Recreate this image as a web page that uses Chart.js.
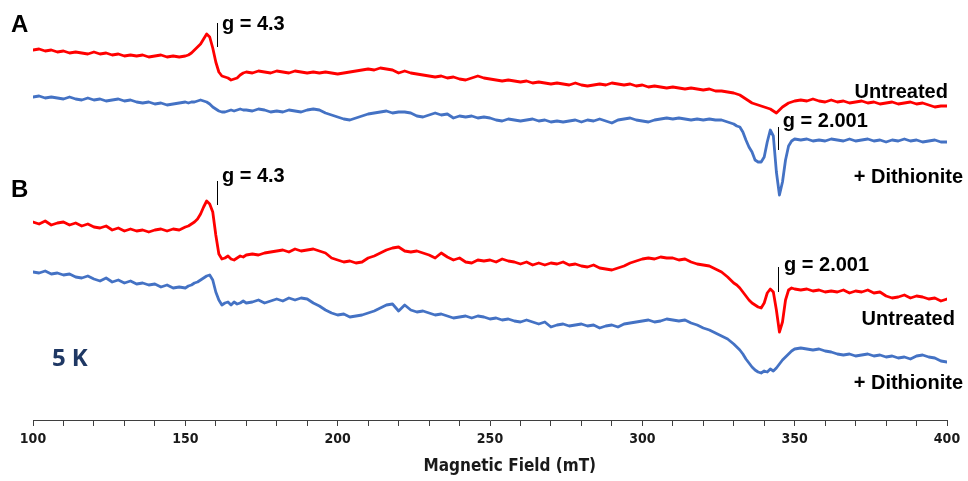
<!DOCTYPE html>
<html>
<head>
<meta charset="utf-8">
<script src="https://cdn.jsdelivr.net/npm/chart.js@4"></script>
<style>
  html, body { margin: 0; padding: 0; background: #ffffff; }
  #wrap { width: 968px; height: 481px; position: relative; }
</style>
</head>
<body>
<div id="wrap"><canvas id="epr"></canvas></div>
<script>
// Magnetic field sampling (mT); finer steps across the g = 4.3 and g = 2.001 features
const fieldMT = [
  100,102,104,106,108,110,112,114,116,118,120,122,124,126,128,130,132,134,136,138,140,142,144,146,148,150,
  151,152,153,154,155,156,157,158,159,160,161,162,163,164,165,166,167,168,169,170,
  172,174,176,178,180,182,184,186,188,190,192,194,196,198,200,202,204,206,208,210,
  212,214,216,218,220,222,224,226,228,230,232,234,236,238,240,242,244,246,248,250,
  252,254,256,258,260,262,264,266,268,270,272,274,276,278,280,282,284,286,288,290,
  292,294,296,298,300,302,304,306,308,310,312,314,316,318,320,322,324,326,328,330,
  331,332,333,334,335,336,337,338,339,340,341,342,343,344,345,346,347,348,349,350,
  352,354,356,358,360,362,364,366,368,370,372,374,376,378,380,382,384,386,388,390,392,394,396,398,400
];

// EPR derivative signals (a.u.) at 5 K
const untreatedA = [
  0,1,-1,0,-2,-1,-3,-2,-3,-4,-2,-4,-3,-5,-4,-6,-5,-6,-5,-7,-6,-5,-7,-6,-7,-6,
  -5,-3,0,3,6,11,16,13,2,-12,-22,-26,-27,-28,-30,-29,-28,-25,-23,-22,
  -23,-21,-22,-23,-21,-22,-23,-21,-22,-23,-22,-23,-22,-23,-24,-23,-22,-21,-20,-19,
  -20,-18,-19,-20,-23,-21,-23,-24,-25,-26,-27,-26,-28,-27,-29,-30,-28,-26,-28,-29,
  -30,-31,-30,-31,-32,-31,-33,-32,-33,-34,-33,-34,-35,-33,-35,-36,-35,-34,-35,-33,
  -34,-35,-34,-36,-35,-37,-36,-37,-38,-37,-38,-39,-38,-39,-40,-39,-41,-41,-42,-43,
  -44,-45,-47,-49,-51,-53,-54,-55,-56,-57,-58,-59,-61,-63,-60,-57,-55,-53,-52,-51,
  -50,-51,-49,-51,-52,-50,-52,-51,-53,-52,-51,-53,-52,-54,-53,-52,-54,-53,-52,-54,-53,-55,-57,-56,-56
];
const dithioniteA = [
  0,1,-1,0,-1,-2,0,-2,-3,-1,-3,-2,-4,-3,-2,-4,-3,-5,-6,-5,-7,-6,-8,-7,-6,-5,
  -6,-5,-5,-4,-3,-4,-5,-7,-10,-12,-14,-15,-15,-14,-13,-14,-13,-12,-13,-13,
  -14,-12,-13,-15,-14,-15,-13,-14,-15,-13,-12,-13,-16,-18,-20,-22,-23,-21,-19,-17,
  -16,-15,-14,-16,-15,-15,-16,-19,-20,-18,-16,-18,-17,-21,-19,-20,-19,-21,-20,-21,
  -23,-24,-22,-23,-24,-23,-22,-24,-23,-25,-24,-25,-24,-23,-25,-23,-24,-22,-24,-26,
  -23,-22,-21,-23,-24,-25,-23,-22,-21,-22,-21,-22,-23,-22,-23,-22,-23,-23,-25,-27,
  -29,-30,-35,-43,-50,-55,-63,-65,-65,-60,-45,-33,-39,-75,-98,-85,-63,-49,-44,-42,
  -43,-42,-44,-43,-44,-42,-43,-44,-42,-44,-43,-42,-44,-43,-45,-43,-44,-42,-44,-43,-45,-44,-43,-45,-45
];
const untreatedB = [
  0,-2,1,-3,-1,0,-3,-1,-4,-2,-5,-6,-4,-8,-6,-9,-7,-9,-8,-10,-8,-7,-9,-7,-8,-5,
  -4,-2,0,3,8,15,21,18,10,-13,-32,-37,-36,-34,-37,-38,-36,-34,-35,-33,
  -32,-33,-31,-30,-29,-28,-30,-27,-29,-28,-27,-29,-31,-36,-38,-40,-39,-41,-40,-36,
  -34,-31,-28,-26,-25,-29,-30,-29,-31,-33,-36,-31,-35,-38,-36,-40,-41,-38,-39,-38,
  -40,-37,-39,-40,-42,-40,-43,-41,-43,-41,-42,-40,-43,-42,-44,-45,-43,-46,-47,-48,
  -46,-44,-41,-39,-37,-36,-37,-35,-36,-36,-38,-37,-40,-42,-43,-44,-47,-50,-55,-61,
  -63,-66,-70,-74,-78,-81,-83,-85,-86,-81,-71,-67,-70,-88,-110,-100,-78,-68,-66,-67,
  -68,-67,-69,-68,-70,-69,-70,-68,-71,-69,-70,-68,-71,-70,-74,-76,-75,-73,-76,-74,-75,-77,-76,-79,-77
];
const dithioniteB = [
  0,-1,1,-2,-1,-3,-2,-5,-6,-4,-7,-9,-6,-10,-8,-11,-9,-12,-11,-13,-12,-15,-13,-16,-15,-16,
  -14,-13,-11,-10,-8,-6,-4,-3,-8,-20,-28,-33,-31,-30,-33,-30,-32,-31,-29,-31,
  -30,-28,-31,-29,-27,-29,-26,-28,-26,-27,-31,-34,-38,-41,-43,-42,-45,-44,-43,-41,
  -39,-36,-33,-32,-39,-33,-38,-40,-39,-41,-43,-42,-44,-46,-45,-44,-46,-44,-45,-47,
  -46,-48,-47,-49,-50,-48,-50,-52,-50,-55,-53,-52,-54,-53,-52,-54,-53,-56,-54,-53,
  -55,-52,-51,-50,-49,-48,-50,-49,-47,-48,-49,-48,-51,-53,-56,-58,-61,-64,-67,-72,
  -75,-78,-82,-87,-91,-95,-98,-100,-101,-99,-100,-97,-99,-96,-92,-88,-85,-82,-79,-77,
  -76,-77,-78,-77,-79,-80,-82,-83,-82,-84,-83,-82,-84,-83,-85,-84,-86,-85,-87,-84,-83,-85,-86,-89,-90
];

// Vertical stacking offsets (a.u.) for each spectrum
const offsets = { untreatedA: 370, dithioniteA: 323, untreatedB: 198, dithioniteB: 148 };

const xTicks = { min: 100, max: 400, step: 10, labelEvery: 50 };
const axisTitle = 'Magnetic Field (mT)';
const RED = '#ff0000';
const BLUE = '#4472c4';

function series(values, offset) {
  return fieldMT.map((f, i) => ({ x: f, y: offset + values[i] }));
}

function lineSet(label, values, offset, color) {
  return {
    label,
    data: series(values, offset),
    borderColor: color,
    backgroundColor: color,
    borderWidth: 2.8,
    pointRadius: 0,
    tension: 0,
    borderCapStyle: 'round',
    borderJoinStyle: 'round'
  };
}

const SANS_BOLD = 'bold 20px "Liberation Sans", Arial, sans-serif';
const PANEL_FONT = 'bold 24px "Liberation Sans", Arial, sans-serif';

// Text and marker annotations, placed in data coordinates
const textNotes = [
  { text: 'A', x: 92.8, y: 395, align: 'left', font: PANEL_FONT, color: '#000' },
  { text: 'B', x: 92.8, y: 230, align: 'left', font: PANEL_FONT, color: '#000' },
  { text: 'g = 4.3', x: 162, y: 396, align: 'left', font: SANS_BOLD, color: '#000' },
  { text: 'g = 4.3', x: 162, y: 244, align: 'left', font: SANS_BOLD, color: '#000' },
  { text: 'g = 2.001', x: 346.1, y: 299, align: 'left', font: SANS_BOLD, color: '#000' },
  { text: 'g = 2.001', x: 346.5, y: 155, align: 'left', font: SANS_BOLD, color: '#000' },
  { text: 'Untreated', x: 400.3, y: 328, align: 'right', font: SANS_BOLD, color: '#000' },
  { text: '+ Dithionite', x: 405.3, y: 243, align: 'right', font: SANS_BOLD, color: '#000' },
  { text: 'Untreated', x: 402.6, y: 101, align: 'right', font: SANS_BOLD, color: '#000' },
  { text: '+ Dithionite', x: 405.3, y: 37, align: 'right', font: SANS_BOLD, color: '#000' },
  { text: '5 K', x: 106.2, y: 61, align: 'left', font: 'bold 24px "Open Sans", "Liberation Sans", sans-serif', color: '#1f3864' }
];
const markers = [
  { x: 160.5, y0: 397, y1: 373 },
  { x: 160.3, y0: 239, y1: 215 },
  { x: 344.5, y0: 293, y1: 270 },
  { x: 344.5, y0: 153, y1: 128 }
];

const annotate = {
  id: 'annotate',
  afterDatasetsDraw(chart) {
    const { ctx, scales: { x, y } } = chart;
    ctx.save();
    ctx.strokeStyle = '#000';
    ctx.lineWidth = 1;
    markers.forEach(m => {
      const px = Math.round(x.getPixelForValue(m.x)) + 0.5;
      ctx.beginPath();
      ctx.moveTo(px, y.getPixelForValue(m.y0));
      ctx.lineTo(px, y.getPixelForValue(m.y1));
      ctx.stroke();
    });
    ctx.textBaseline = 'middle';
    textNotes.forEach(n => {
      ctx.font = n.font;
      ctx.fillStyle = n.color;
      ctx.textAlign = n.align;
      ctx.fillText(n.text, x.getPixelForValue(n.x), y.getPixelForValue(n.y));
    });
    // axis title, centred slightly right of the plot centre
    ctx.font = 'bold 17px "Liberation Sans Narrow", "DejaVu Sans Condensed", sans-serif';
    ctx.fillStyle = '#1a1a1a';
    ctx.textAlign = 'center';
    ctx.fillText(axisTitle, x.getPixelForValue(256.5), x.bottom - 14);
    ctx.restore();
  }
};

new Chart(document.getElementById('epr'), {
  type: 'line',
  data: {
    datasets: [
      lineSet('Untreated (A)', untreatedA, offsets.untreatedA, RED),
      lineSet('+ Dithionite (A)', dithioniteA, offsets.dithioniteA, BLUE),
      lineSet('Untreated (B)', untreatedB, offsets.untreatedB, RED),
      lineSet('+ Dithionite (B)', dithioniteB, offsets.dithioniteB, BLUE)
    ]
  },
  options: {
    responsive: true,
    maintainAspectRatio: false,
    animation: false,
    layout: { padding: { left: 33, right: 21, top: 0, bottom: 0 } },
    plugins: { legend: { display: false }, tooltip: { enabled: false } },
    scales: {
      x: {
        type: 'linear',
        min: xTicks.min,
        max: xTicks.max,
        afterFit(scale) { scale.height = 61; },
        border: { display: true, color: '#3f3f3f', width: 1 },
        grid: { drawOnChartArea: false, drawTicks: true, tickLength: 6, color: '#3f3f3f' },
        ticks: {
          stepSize: xTicks.step,
          autoSkip: false,
          maxRotation: 0,
          padding: 5,
          color: '#1a1a1a',
          font: { family: '"Liberation Sans Narrow", "DejaVu Sans Condensed", sans-serif', weight: 'bold', size: 14 },
          callback: v => (v % xTicks.labelEvery === 0 ? String(v) : '')
        },
        title: { display: false }
      },
      y: { display: false, min: 0, max: 420 }
    }
  },
  plugins: [annotate]
});
</script>
</body>
</html>
